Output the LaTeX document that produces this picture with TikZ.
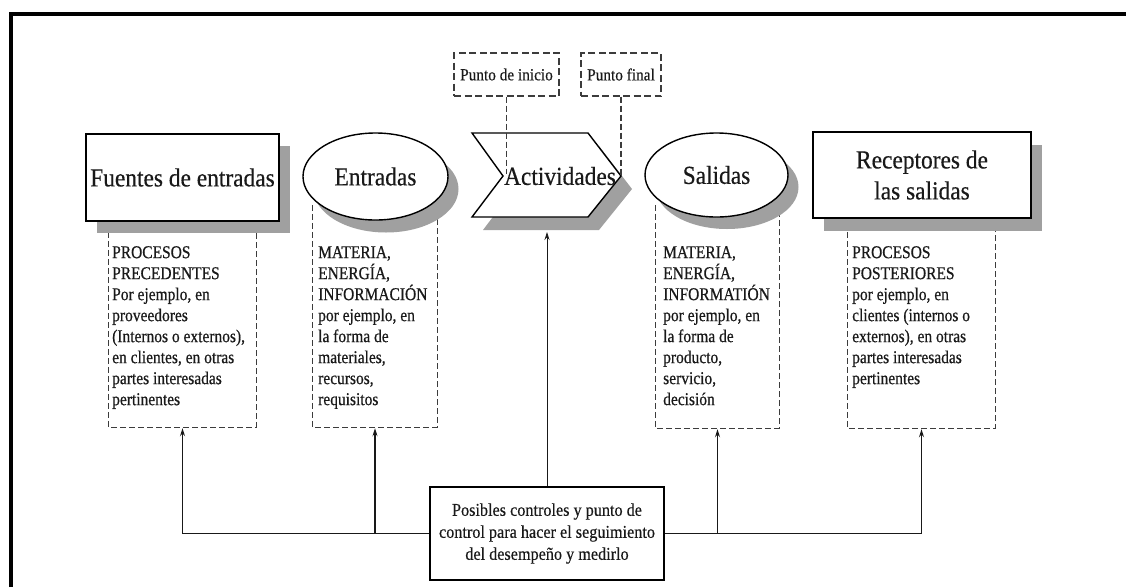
\documentclass[tikz,border=0pt]{standalone}
\usepackage{fontspec}
\setmainfont{Liberation Serif}
\newfontfamily\bodyfont[FakeStretch=0.86,FakeBold=0.6]{Liberation Serif}
\newfontfamily\headfont[FakeStretch=0.9,FakeBold=0.4]{Liberation Serif}
\usetikzlibrary{arrows.meta,shapes.geometric}
\definecolor{shadowgray}{RGB}{160,160,160}
\definecolor{dashgray}{RGB}{60,60,60}
\definecolor{inkgray}{RGB}{25,25,25}
\begin{document}
\begin{tikzpicture}[x=1pt,y=-1pt,
  title/.style={font=\headfont\fontsize{26}{31}\selectfont, text=inkgray},
  body/.style={font=\bodyfont\fontsize{18}{21}\selectfont, align=left, inner sep=0pt, anchor=north west, text=inkgray},
  dashbox/.style={draw=dashgray, line width=1.2pt, dash pattern=on 6pt off 3pt},
  pbox/.style={draw=dashgray, line width=1.3pt, dash pattern=on 7pt off 3.5pt, inner sep=0pt, font=\headfont\fontsize{17}{20}\selectfont, text=inkgray},
  mainbox/.style={draw, line width=1.6pt, fill=white, inner sep=0pt, align=center},
  mainell/.style={ellipse, draw, line width=1.4pt, fill=white, inner sep=0pt},
  shadow/.style={fill=shadowgray},
  conn/.style={line width=1.2pt, draw=inkgray, -{Stealth[length=8pt,width=5pt]}, shorten >=1pt},
  holder/.style={inner sep=0pt, minimum height=222pt}
]
\useasboundingbox (0,0) rectangle (1126,587);
% outer frame
\draw[line width=4pt] (11,587) -- (11,14) -- (1126,14);

% dashed description boxes (behind the shapes)
\node[holder, minimum width=147pt] (d1) at (182.5,316) {};
\node[holder, minimum width=124pt] (d2) at (375,316) {};
\node[holder, minimum width=123pt, minimum height=223pt] (d3) at (717.5,316.5) {};
\node[holder, minimum width=147pt, minimum height=223pt] (d4) at (921.5,316.5) {};
\foreach \d in {d1,d2,d3,d4}{
  \draw[dashbox] (\d.north west) -- (\d.south west) -- (\d.south east) -- (\d.north east);
}

% shadows
\fill[shadow] (97,146) rectangle (290,233);
\fill[shadow] (386,189) ellipse [x radius=72.5pt, y radius=43.5pt];
\fill[shadow] (483,146) -- (599,146) -- (632,189) -- (599,230) -- (483,230) -- (514,189) -- cycle;
\fill[shadow] (727,187) ellipse [x radius=71.5pt, y radius=42pt];
\fill[shadow] (824,145) rectangle (1042,231);

% main shapes
\node[mainbox, title, minimum width=193pt, minimum height=87pt] (fuentes) at (182.5,177.5) {Fuentes de entradas};
\node[mainell, title, minimum width=145pt, minimum height=87pt] (entradas) at (375.5,176.5) {Entradas};
\draw[line width=1.4pt, fill=white] (472,133) -- (588,133) -- (621,176) -- (588,217) -- (472,217) -- (503,176) -- cycle;
\node[title, inner sep=0pt] (act) at (560,176) {Actividades};
\node[mainell, title, minimum width=143pt, minimum height=84pt] (salidas) at (716.5,175) {Salidas};
\node[mainbox, title, minimum width=218pt, minimum height=86pt] (recep) at (922,175) {Receptores de\\las salidas};

% start / end point boxes
\node[pbox, minimum width=105pt, minimum height=43pt] (p1) at (506.5,74.5) {Punto de inicio};
\node[pbox, minimum width=80pt, minimum height=43pt] (p2) at (621,74.5) {Punto final};
\coordinate (startpt) at (506.5,174);
\coordinate (endpt) at (621,176);
\draw[dashgray, line width=1.1pt, dash pattern=on 6pt off 3pt] (p1.south) -- (startpt);
\draw[dashgray, line width=1.1pt, dash pattern=on 6pt off 3pt] (p2.south) -- (endpt);

% descriptions
\node[body] (t1) at (112,246) {PROCESOS\\PRECEDENTES\\Por ejemplo, en\\proveedores\\(Internos o externos),\\en clientes, en otras\\partes interesadas\\pertinentes};
\node[body] (t2) at (318,246) {MATERIA,\\ENERGÍA,\\INFORMACIÓN\\por ejemplo, en\\la forma de\\materiales,\\recursos,\\requisitos};
\node[body] (t3) at (663,246) {MATERIA,\\ENERGÍA,\\INFORMATIÓN\\por ejemplo, en\\la forma de\\producto,\\servicio,\\decisión};
\node[body] (t4) at (852,246) {PROCESOS\\POSTERIORES\\por ejemplo, en\\clientes (internos o\\externos), en otras\\partes interesadas\\pertinentes};

% control box and connectors
\node[mainbox, minimum width=234pt, minimum height=93pt, font=\headfont\fontsize{18}{22}\selectfont, text=inkgray] (ctl) at (547,533.5) {Posibles controles y punto de\\control para hacer el seguimiento\\del desempeño y medirlo};
\coordinate (actb) at (547,232);
\draw[conn] (ctl.west) -| (d1.south);
\draw[conn] (ctl.west -| d2.south) -- (d2.south);
\draw[conn] (ctl.east) -| (d4.south);
\draw[conn] (ctl.east -| d3.south) -- (d3.south);
\draw[line width=0.8pt, draw=inkgray, -{Stealth[length=8pt,width=5pt]}] (ctl.north) -- (actb);
\end{tikzpicture}
\end{document}
